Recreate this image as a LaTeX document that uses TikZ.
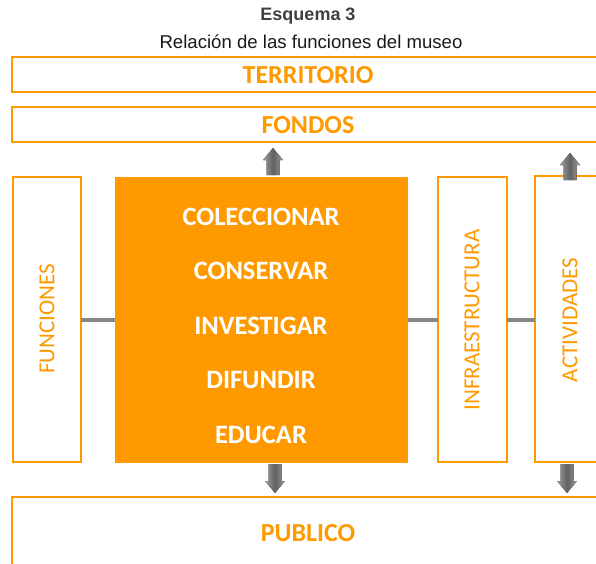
\documentclass[tikz,border=0pt]{standalone}
\usepackage{fontspec}
\setmainfont{Liberation Sans}
\newfontfamily\calfont{Carlito}
\definecolor{org}{RGB}{255,153,0}
\definecolor{conn}{RGB}{135,135,135}
\begin{document}
\begin{tikzpicture}[x=1pt,y=-1pt,
  obox/.style={draw=org,line width=2.6pt,fill=white,inner sep=0pt,outer sep=0pt},
  blabel/.style={font=\calfont\bfseries\fontsize{26}{28}\selectfont,text=org},
  wlabel/.style={font=\calfont\bfseries\fontsize{26.5}{28}\selectfont,text=white},
  vlabel/.style={font=\calfont\fontsize{23}{25}\selectfont,text=org,rotate=90},
  link/.style={draw=conn,line width=3.5pt},
  garrow/.style={left color=black!38,right color=black!38,middle color=black!62}]
\useasboundingbox (0,0) rectangle (596,563);
\clip (0,0) rectangle (596,563);
% title
\node[font=\bfseries\fontsize{18}{20}\selectfont,text=black!75] (t1) at (308,16) {Esquema 3};
\node[font=\fontsize{18.6}{20}\selectfont,text=black!90] (t2) at (311,42) {Relación de las funciones del museo};
% top boxes
\node[obox,minimum width=596pt,minimum height=35pt,anchor=north west] (terr) at (12,57) {};
\node[blabel] at (308,75) {TERRITORIO};
\node[obox,minimum width=596pt,minimum height=35pt,anchor=north west] (fond) at (12,107) {};
\node[blabel] at (308,125) {FONDOS};
% side boxes
\node[obox,minimum width=68pt,minimum height=285pt,anchor=north west] (func) at (13,177) {};
\node[vlabel] at (47,319) {FUNCIONES};
\node[obox,minimum width=69pt,minimum height=285pt,anchor=north west] (infra) at (438,177) {};
\node[vlabel] at (472,320) {INFRAESTRUCTURA};
\node[obox,minimum width=80pt,minimum height=286pt,anchor=north west] (act) at (535,176) {};
\node[vlabel] at (570,320) {ACTIVIDADES};
% center box
\node[fill=org,minimum width=293pt,minimum height=286pt,anchor=north west,inner sep=0pt] (core) at (115,177) {};
\node[wlabel] (c1) at (261,217) {COLECCIONAR};
\node[wlabel] (c2) at (261,271) {CONSERVAR};
\node[wlabel] (c3) at (261,326) {INVESTIGAR};
\node[wlabel] (c4) at (261,380) {DIFUNDIR};
\node[wlabel] (c5) at (261,435) {EDUCAR};
% bottom box
\node[obox,minimum width=596pt,minimum height=80pt,anchor=north west] (pub) at (12,497) {};
\node[blabel] at (308,533) {PUBLICO};
% connectors
\coordinate (lA) at (func.east |- 0,320);
\coordinate (lB) at (core.west |- 0,320);
\coordinate (lC) at (core.east |- 0,320);
\coordinate (lD) at (infra.west |- 0,320);
\coordinate (lE) at (infra.east |- 0,320);
\coordinate (lF) at (act.west |- 0,320);
\draw[link] (lA) -- (lB);
\draw[link] (lC) -- (lD);
\draw[link] (lE) -- (lF);
% up arrows
\fill[garrow] (273,148) -- (283,160) -- (279.5,160) -- (279.5,175) -- (266.5,175) -- (266.5,160) -- (263,160) -- cycle;
\fill[garrow] (570,153) -- (580,165) -- (576.5,165) -- (576.5,180) -- (563.5,180) -- (563.5,165) -- (560,165) -- cycle;
% down arrows
\fill[garrow] (275,493) -- (285,481) -- (281.5,481) -- (281.5,464) -- (268.5,464) -- (268.5,481) -- (265,481) -- cycle;
\fill[garrow] (567,493) -- (577,481) -- (573.5,481) -- (573.5,464) -- (560.5,464) -- (560.5,481) -- (557,481) -- cycle;
\end{tikzpicture}
\end{document}
